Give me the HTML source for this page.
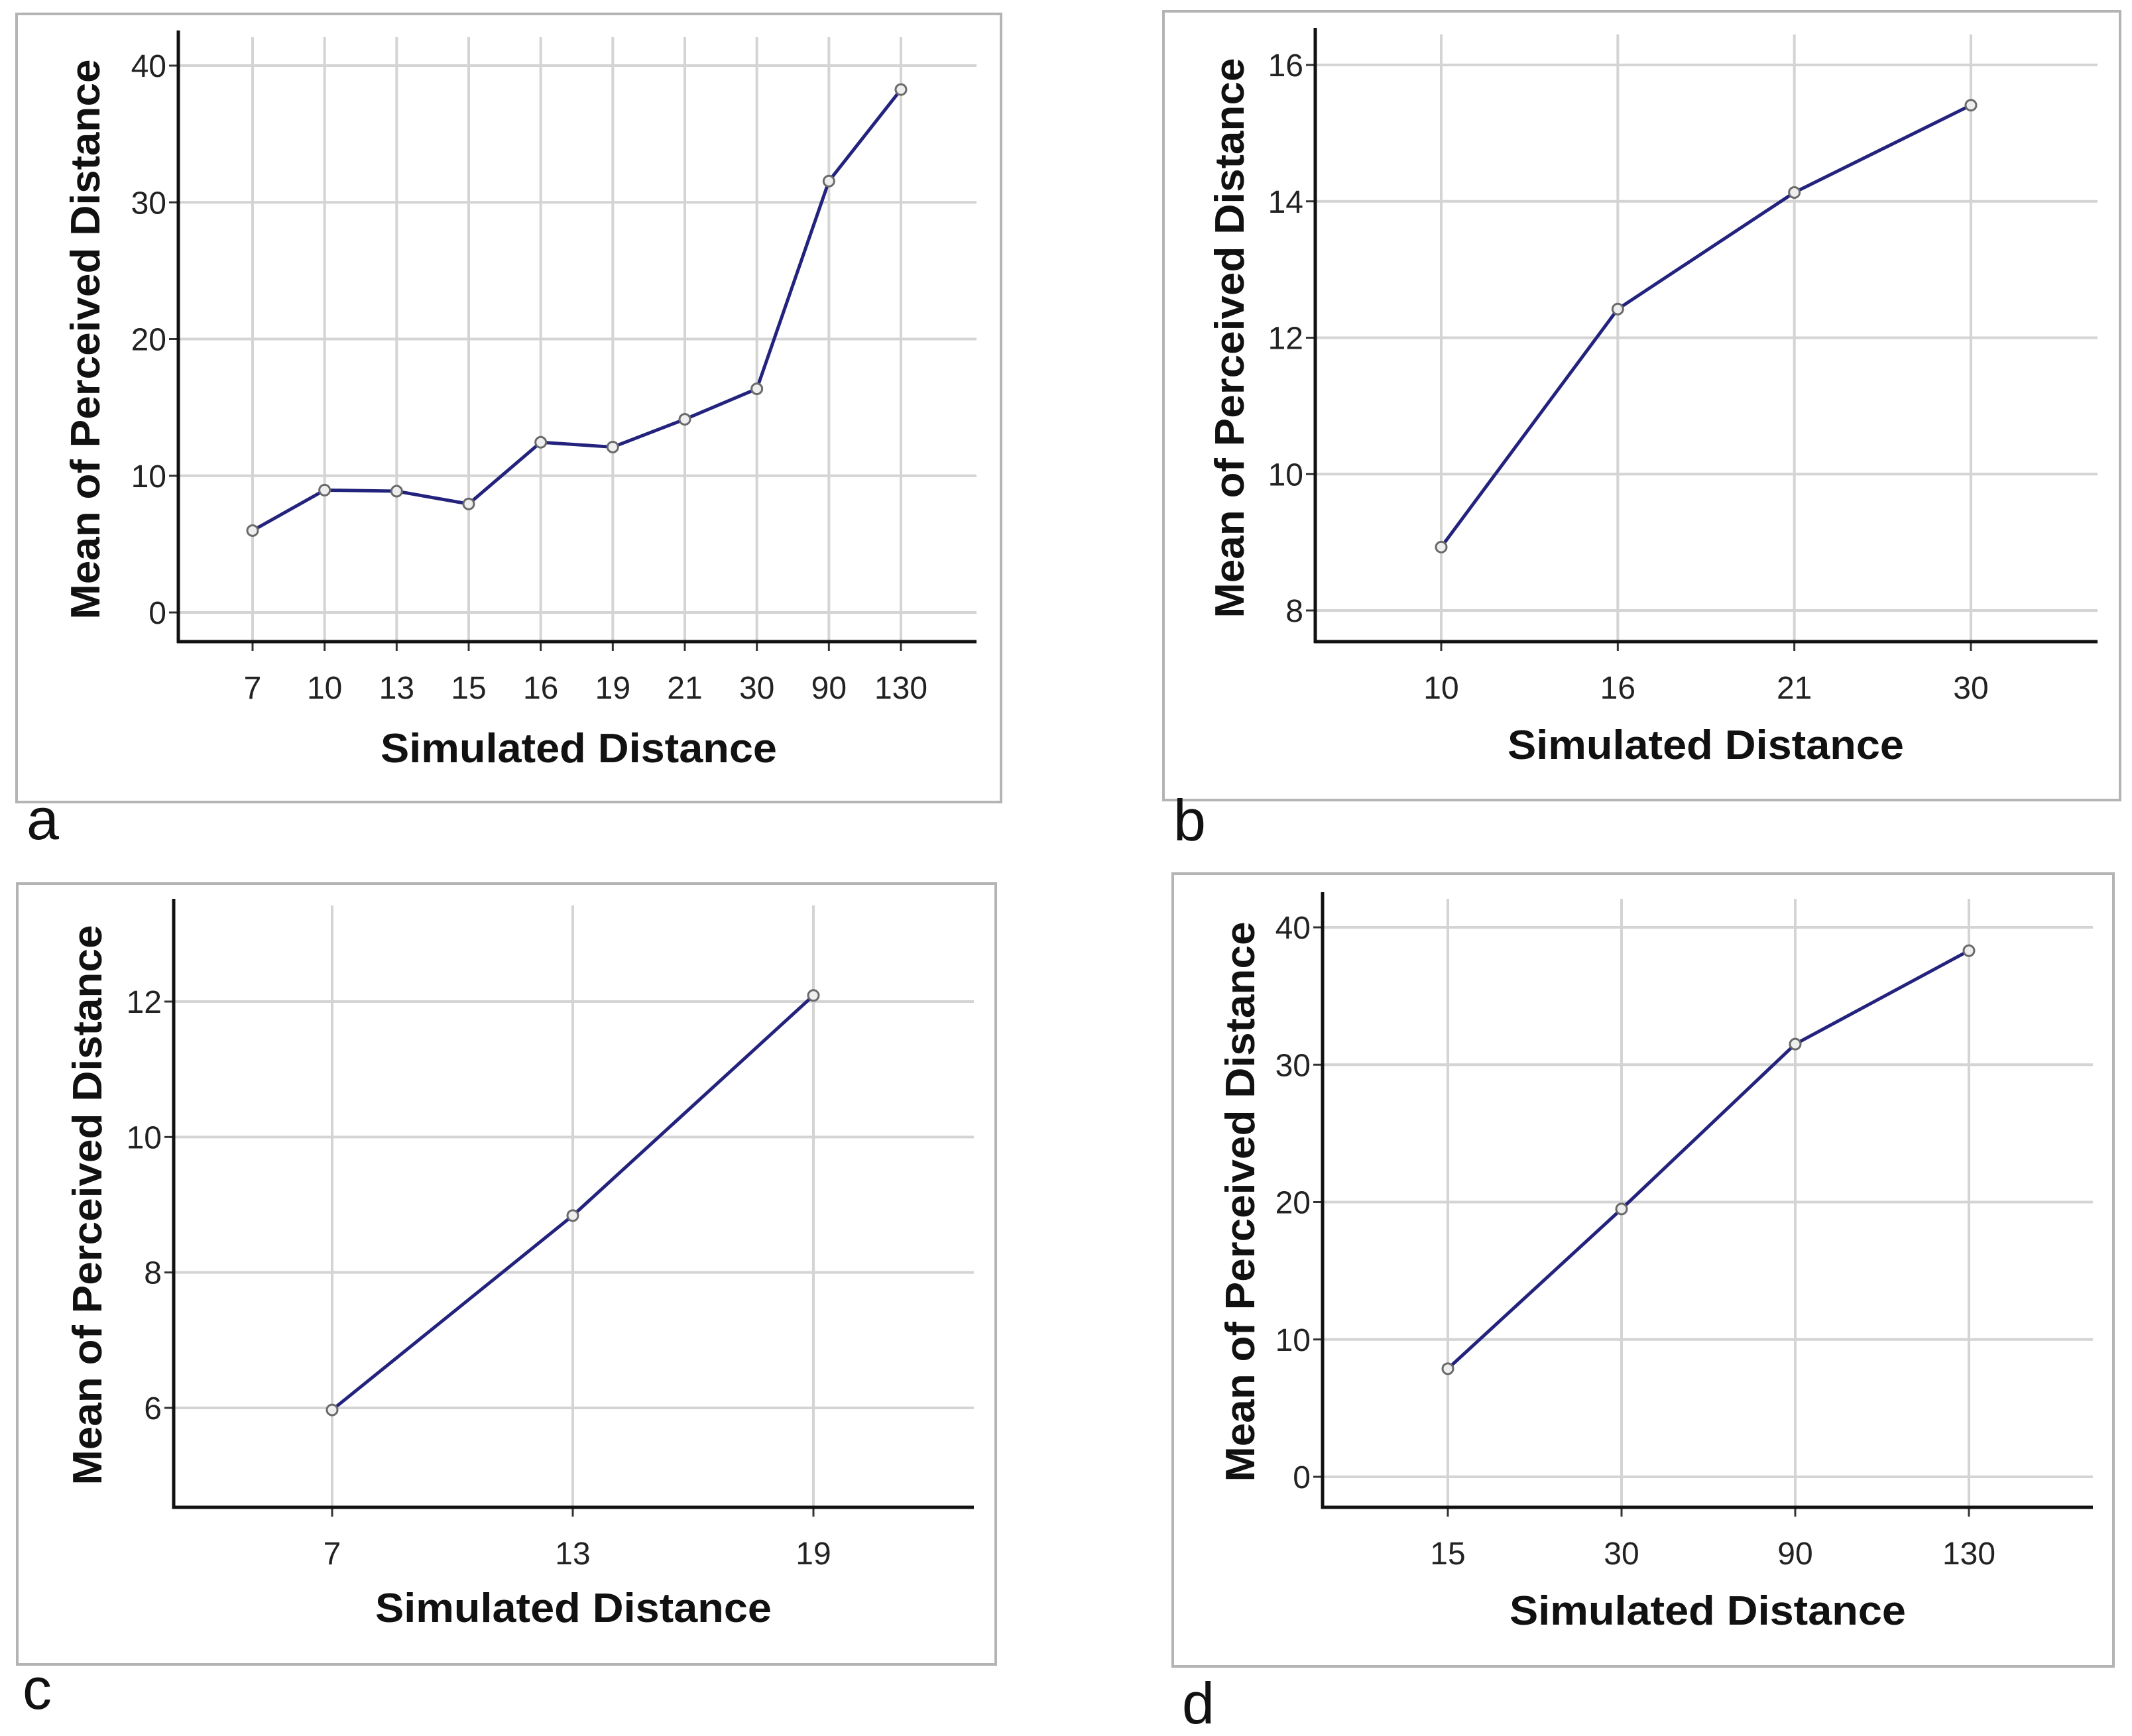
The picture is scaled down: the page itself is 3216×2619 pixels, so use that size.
<!DOCTYPE html>
<html><head><meta charset="utf-8">
<style>
html,body{margin:0;padding:0;background:#fff;}
svg{display:block;}
text{font-family:"Liberation Sans",Arial,sans-serif;}
</style></head>
<body>
<svg id="fig" width="3216" height="2619" viewBox="0 0 3216 2619" xmlns="http://www.w3.org/2000/svg">
<rect width="3216" height="2619" fill="#fff"/>
</svg>
<script>
// Panel a data
const catsA = ["7","10","13","15","16","19","21","30","90","130"];
const valsA = [5.99, 8.95, 8.87, 7.94, 12.45, 12.1, 14.13, 16.36, 31.55, 38.25];
const ticksA = [0, 10, 20, 30, 40];
// Panel b data
const catsB = ["10","16","21","30"];
const valsB = [8.93, 12.42, 14.13, 15.41];
const ticksB = [8, 10, 12, 14, 16];
// Panel c data
const catsC = ["7","13","19"];
const valsC = [5.97, 8.84, 12.09];
const ticksC = [6, 8, 10, 12];
// Panel d data
const catsD = ["15","30","90","130"];
const valsD = [7.87, 19.5, 31.5, 38.3];
const ticksD = [0, 10, 20, 30, 40];

const NS = "http://www.w3.org/2000/svg";
const svg = document.getElementById('fig');
function mk(tag, attrs, parent) {
  const e = document.createElementNS(NS, tag);
  for (const k in attrs) e.setAttribute(k, attrs[k]);
  (parent || svg).appendChild(e);
  return e;
}

function panel(id, L, cats, vals, ticks) {
  const g = mk('g', {});
  
  
  const frame = mk('rect', {x:L.fx, y:L.fy, width:L.fw, height:L.fh, fill:'none', stroke:'#b4b4b4', 'stroke-width':4}, g);
  
  
  const t0 = ticks[0], t1 = ticks[ticks.length-1];
  const yS = v => L.yB + (v - t0) / (t1 - t0) * (L.yT - L.yB);
  const n = cats.length;
  const xS = i => n > 1 ? L.xF + i * (L.xL - L.xF) / (n - 1) : L.xF;
  // horizontal gridlines + y ticks
  ticks.forEach(t => {
    const y = yS(t);
    const gl = mk('line', {x1:L.ax, x2:L.right, y1:y, y2:y, stroke:'#d4d4d4', 'stroke-width':4}, g);
    
    
    const tk = mk('line', {x1:L.ax-14, x2:L.ax, y1:y, y2:y, stroke:'#333', 'stroke-width':3}, g);
    
    
    const tl = mk('text', {x:L.ax-18, y:y+17, 'text-anchor':'end', 'font-size':48, fill:'#222'}, g);
    tl.textContent = t;
    
    
  });
  // vertical gridlines + x ticks
  cats.forEach((c, i) => {
    const x = xS(i);
    const gl = mk('line', {x1:x, x2:x, y1:L.top, y2:L.xa, stroke:'#d4d4d4', 'stroke-width':4}, g);
    
    
    const tk = mk('line', {x1:x, x2:x, y1:L.xa, y2:L.xa+14, stroke:'#333', 'stroke-width':3}, g);
    
    
    const tl = mk('text', {x:x, y:L.xa+86, 'text-anchor':'middle', 'font-size':48, fill:'#222'}, g);
    tl.textContent = c;
    
    
  });
  // axes
  const ya = mk('line', {x1:L.ax, x2:L.ax, y1:L.top-10, y2:L.xa+2, stroke:'#111', 'stroke-width':5}, g);
  
  
  const xa = mk('line', {x1:L.ax-2, x2:L.right, y1:L.xa, y2:L.xa, stroke:'#111', 'stroke-width':5}, g);
  
  
  // series line
  const pts = vals.map((v, i) => xS(i) + ',' + yS(v)).join(' ');
  const pl = mk('polyline', {points:pts, fill:'none', stroke:'#23237e', 'stroke-width':5, 'stroke-linejoin':'round'}, g);
  
  
  vals.forEach((v, i) => {
    const c = mk('circle', {cx:xS(i), cy:yS(v), r:8, fill:'#eee', stroke:'#6a6a6a', 'stroke-width':3}, g);
    
    
  });
  // titles
  const xt = mk('text', {x:L.xtX, y:L.xtY, 'text-anchor':'middle', 'font-size':62, 'font-weight':'bold', fill:'#111', textLength:598, lengthAdjust:'spacingAndGlyphs'}, g);
  xt.textContent = 'Simulated Distance';
  
  
  const yt = mk('text', {x:0, y:0, 'text-anchor':'middle', 'font-size':62, 'font-weight':'bold', fill:'#111', textLength:845, lengthAdjust:'spacingAndGlyphs', transform:'translate(' + L.ytX + ',' + L.ytY + ') rotate(-90)'}, g);
  yt.textContent = 'Mean of Perceived Distance';
  
  
  const pl2 = mk('text', {x:L.lx, y:L.ly, 'font-size':88, fill:'#111'}, g);
  pl2.textContent = id;
  
  
}

panel('a', {fx:25, fy:21, fw:1485, fh:1189, ax:269, top:56, xa:968, right:1473, yT:99, yB:924, xF:381, xL:1359, xtX:873, xtY:1150, ytX:150, ytY:512, lx:40, ly:1266}, catsA, valsA, ticksA);
panel('b', {fx:1755, fy:17, fw:1443, fh:1190, ax:1984, top:52, xa:968, right:3164, yT:98, yB:921, xF:2174, xL:2973, xtX:2573, xtY:1145, ytX:1876, ytY:510, lx:1770, ly:1268}, catsB, valsB, ticksB);
panel('c', {fx:26, fy:1333, fw:1476, fh:1178, ax:262, top:1366, xa:2274, right:1469, yT:1511, yB:2124, xF:501, xL:1227, xtX:865, xtY:2447, ytX:153, ytY:1818, lx:34, ly:2578}, catsC, valsC, ticksC);
panel('d', {fx:1769, fy:1318, fw:1419, fh:1196, ax:1995, top:1356, xa:2274, right:3157, yT:1399, yB:2228, xF:2184, xL:2970, xtX:2576, xtY:2451, ytX:1892, ytY:1813, lx:1783, ly:2600}, catsD, valsD, ticksD);
</script>
</body></html>
